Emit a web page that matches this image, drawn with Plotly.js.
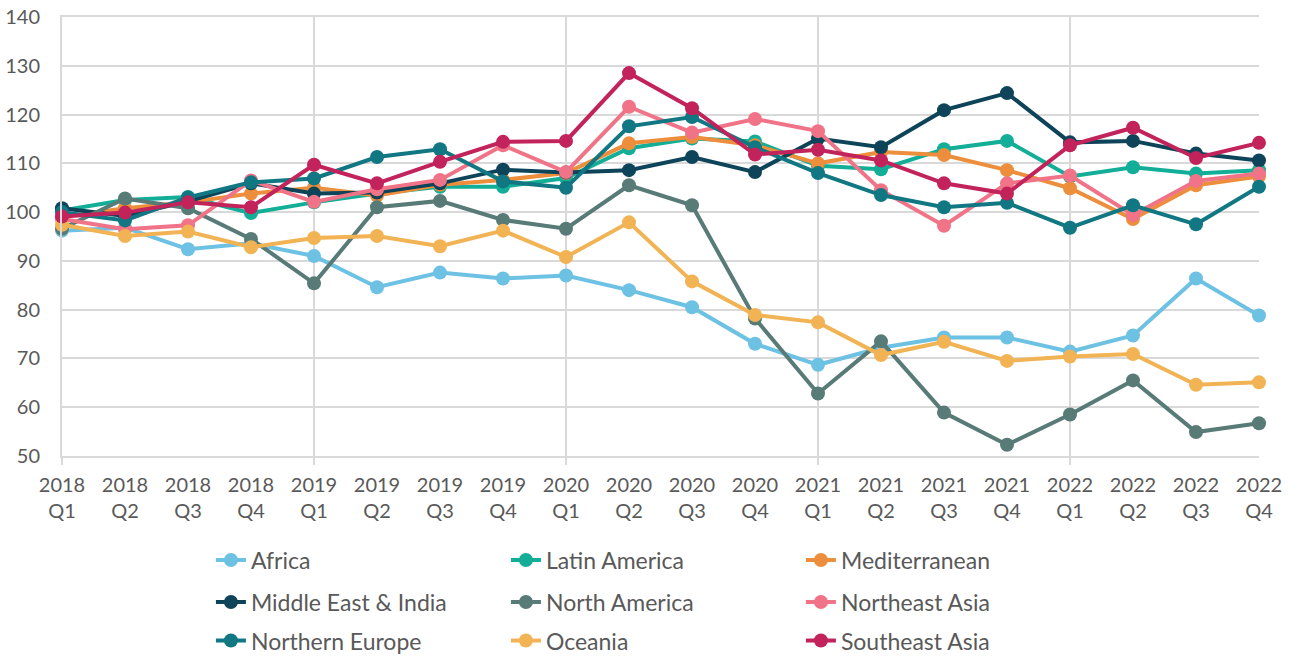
<!DOCTYPE html>
<html>
<head>
<meta charset="utf-8">
<script src="https://cdn.plot.ly/plotly-3.0.1.min.js"></script>
<style>html,body{margin:0;padding:0;background:#fff;}#chart{width:1294px;height:657px;}</style>
</head>
<body>
<div id="chart"></div>
<script>
const quarters = ["2018<br>Q1","2018<br>Q2","2018<br>Q3","2018<br>Q4","2019<br>Q1","2019<br>Q2","2019<br>Q3","2019<br>Q4","2020<br>Q1","2020<br>Q2","2020<br>Q3","2020<br>Q4","2021<br>Q1","2021<br>Q2","2021<br>Q3","2021<br>Q4","2022<br>Q1","2022<br>Q2","2022<br>Q3","2022<br>Q4"];

const africa        = [96.2, 96.8, 92.4, 93.6, 91.0, 84.6, 87.6, 86.4, 87.0, 84.0, 80.5, 73.0, 68.7, 72.2, 74.3, 74.3, 71.4, 74.7, 86.4, 78.8];
const latinAmerica  = [100.3, 102.5, 103.1, 99.8, 102.0, 103.8, 105.2, 105.2, 107.0, 113.1, 115.1, 114.5, 109.5, 108.8, 112.9, 114.6, 107.3, 109.2, 107.9, 108.6];
const mediterranean = [99.0, 100.8, 102.0, 103.8, 105.0, 103.4, 105.6, 106.6, 108.0, 114.1, 115.4, 113.7, 110.0, 112.3, 111.7, 108.6, 104.9, 98.6, 105.5, 107.3];
const middleEast    = [100.8, 99.2, 102.2, 105.9, 103.8, 104.0, 105.9, 108.7, 108.1, 108.6, 111.3, 108.2, 115.1, 113.3, 120.9, 124.4, 114.3, 114.6, 112.0, 110.6];
const northAmerica  = [96.6, 102.8, 100.8, 94.5, 85.4, 101.0, 102.3, 98.4, 96.6, 105.5, 101.4, 78.2, 62.8, 73.5, 58.9, 52.3, 58.5, 65.5, 54.9, 56.7];
const northeastAsia = [98.6, 96.5, 97.3, 106.5, 102.1, 104.7, 106.6, 113.7, 108.2, 121.6, 116.3, 119.1, 116.6, 104.5, 97.2, 105.9, 107.5, 99.4, 106.4, 107.9];
const northernEurope= [100.0, 98.3, 103.0, 106.1, 106.9, 111.3, 112.9, 106.3, 105.0, 117.6, 119.5, 113.3, 108.0, 103.5, 101.0, 101.9, 96.8, 101.4, 97.5, 105.2];
const oceania       = [97.4, 95.1, 96.0, 92.8, 94.7, 95.1, 93.0, 96.2, 90.8, 97.9, 85.8, 78.9, 77.4, 70.7, 73.4, 69.5, 70.4, 70.9, 64.6, 65.1];
const southeastAsia = [99.1, 99.9, 102.0, 101.0, 109.7, 105.9, 110.3, 114.4, 114.6, 128.5, 121.3, 111.8, 112.8, 110.6, 105.9, 103.8, 113.7, 117.3, 111.1, 114.2];

const seriesNames  = ["Africa","Latin America","Mediterranean","Middle East & India","North America","Northeast Asia","Northern Europe","Oceania","Southeast Asia"];
const seriesData   = [africa, latinAmerica, mediterranean, middleEast, northAmerica, northeastAsia, northernEurope, oceania, southeastAsia];
const seriesColors = ["#6DC1E3","#12AE97","#EC8E3B","#0E4459","#587B77","#F07387","#117782","#F1B354","#C1235A"];
const legendRows   = ["legend","legend","legend","legend2","legend2","legend2","legend3","legend3","legend3"];

const xIdx = quarters.map((q, i) => i);
const gridYears = [0, 4, 8, 12, 16];

const traces = seriesNames.map((name, k) => ({
  type: "scatter",
  mode: "lines+markers",
  name: name,
  x: xIdx,
  y: seriesData[k],
  line: {color: seriesColors[k], width: 4},
  marker: {color: seriesColors[k], size: 14},
  cliponaxis: false,
  legend: legendRows[k],
  hoverinfo: "x+y+name"
}));

// invisible helper trace so the overlay axis carrying the yearly vertical grid exists
traces.push({type: "scatter", x: [0], y: [null], xaxis: "x2", yaxis: "y", showlegend: false, hoverinfo: "skip", mode: "markers", marker: {opacity: 0}});

const fontFam = "Lato, 'Open Sans', sans-serif";
const legendCommon = {
  orientation: "h",
  xref: "container",
  yref: "container",
  x: 0.163,
  xanchor: "left",
  yanchor: "middle",
  entrywidth: 250,
  entrywidthmode: "pixels",
  font: {family: fontFam, size: 23, color: "#595959"},
  bgcolor: "rgba(0,0,0,0)",
  itemclick: false
};

const layout = {
  width: 1294,
  height: 657,
  margin: {l: 62, r: 35, t: 17, b: 201, autoexpand: false},
  paper_bgcolor: "#ffffff",
  plot_bgcolor: "#ffffff",
  font: {family: fontFam, color: "#595959"},
  showlegend: true,
  xaxis: {
    range: [0, 19],
    tickmode: "array",
    tickvals: xIdx,
    ticktext: quarters,
    showgrid: false,
    zeroline: false,
    showline: true,
    mirror: true,
    linecolor: "#d9d9d9",
    linewidth: 2,
    ticks: "",
    tickfont: {family: fontFam, size: 20, color: "#595959"},
    ticklabelstandoff: 10
  },
  xaxis2: {
    overlaying: "x",
    matches: "x",
    side: "bottom",
    range: [0, 19],
    tickmode: "array",
    tickvals: gridYears,
    showticklabels: false,
    showgrid: true,
    gridcolor: "#d9d9d9",
    gridwidth: 2,
    ticks: "outside",
    ticklen: 8,
    tickwidth: 2,
    tickcolor: "#d9d9d9",
    zeroline: false,
    showline: false
  },
  yaxis: {
    range: [50, 140],
    tickmode: "linear",
    tick0: 50,
    dtick: 10,
    showgrid: true,
    gridcolor: "#d9d9d9",
    gridwidth: 2,
    zeroline: false,
    showline: true,
    linecolor: "#d9d9d9",
    linewidth: 2,
    ticks: "",
    tickfont: {family: fontFam, size: 20, color: "#595959"},
    ticklabelstandoff: 16
  },
  legend:  Object.assign({}, legendCommon, {y: 0.1476}),
  legend2: Object.assign({}, legendCommon, {y: 0.0837}),
  legend3: Object.assign({}, legendCommon, {y: 0.0250})
};

Plotly.newPlot("chart", traces, layout, {displayModeBar: false, staticPlot: true});
</script>
</body>
</html>
